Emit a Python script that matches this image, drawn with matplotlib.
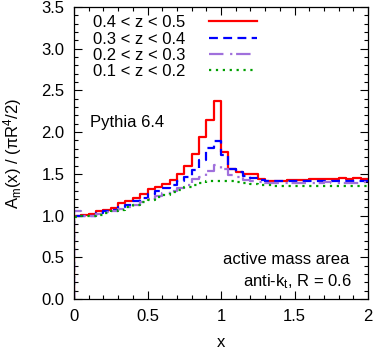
import numpy as np
import matplotlib
matplotlib.use("Agg")
import matplotlib.pyplot as plt
from matplotlib.ticker import MultipleLocator, FixedLocator, FormatStrFormatter

plt.rcParams['font.family'] = ['Liberation Sans', 'DejaVu Sans']
plt.rcParams['mathtext.fontset'] = 'custom'
plt.rcParams['mathtext.rm'] = 'Liberation Sans'
plt.rcParams['mathtext.it'] = 'Liberation Sans'

bin_edges = np.round(np.arange(0, 2.0001, 0.05), 3)

red = [1.00, 1.01, 1.02, 1.05, 1.07, 1.09, 1.15, 1.18, 1.21, 1.26,
       1.32, 1.34, 1.38, 1.43, 1.50, 1.59, 1.74, 1.94, 2.15, 2.37,
       1.76, 1.56, 1.52, 1.50, 1.50, 1.44, 1.42, 1.42, 1.42, 1.43,
       1.43, 1.43, 1.44, 1.44, 1.44, 1.44, 1.45, 1.44, 1.45, 1.44]
blue = [0.99, 0.99, 1.00, 1.03, 1.05, 1.07, 1.10, 1.13, 1.17, 1.21,
        1.26, 1.30, 1.33, 1.37, 1.41, 1.46, 1.55, 1.67, 1.81, 1.89,
        1.73, 1.56, 1.52, 1.48, 1.45, 1.43, 1.42, 1.41, 1.41, 1.41,
        1.41, 1.41, 1.41, 1.42, 1.41, 1.42, 1.41, 1.42, 1.41, 1.42]
purple = [1.05, 0.99, 1.00, 1.02, 1.04, 1.05, 1.08, 1.10, 1.13, 1.16,
          1.20, 1.23, 1.27, 1.30, 1.33, 1.37, 1.44, 1.46, 1.53, 1.61,
          1.56, 1.49, 1.46, 1.43, 1.41, 1.40, 1.39, 1.39, 1.39, 1.39,
          1.39, 1.39, 1.39, 1.39, 1.40, 1.39, 1.39, 1.39, 1.39, 1.40]
green = [0.98, 0.99, 1.00, 1.01, 1.03, 1.05, 1.07, 1.10, 1.13, 1.16,
         1.19, 1.22, 1.25, 1.28, 1.31, 1.34, 1.37, 1.39, 1.41, 1.42,
         1.42, 1.41, 1.40, 1.39, 1.38, 1.37, 1.37, 1.36, 1.36, 1.36,
         1.36, 1.36, 1.35, 1.35, 1.35, 1.35, 1.35, 1.35, 1.35, 1.35]

labels = ["0.4 < z < 0.5", "0.3 < z < 0.4", "0.2 < z < 0.3", "0.1 < z < 0.2"]
series = [red, blue, purple, green]
colors = ["#ff0000", "#0000ff", "#a070dc", "#00a000"]
styles = ["-", (0, (4, 2.4)), (0, (6.5, 3, 1, 1.7)), (0, (1, 2.1))]

FS = 12

fig = plt.figure(figsize=(3.74, 3.49), dpi=100)
ax = fig.add_axes([74/374, 1-299/349, 294/374, 292/349])

for vals, lab, c, ls in zip(series, labels, colors, styles):
    x = np.concatenate([[bin_edges[0]], np.repeat(bin_edges, 2)[1:-1]])
    y = np.concatenate([[0.0], np.repeat(vals, 2)])
    ax.plot(x, y, color=c, linestyle=ls, lw=1.6, label=lab)

ax.set_xlim(0, 2)
ax.set_ylim(0, 3.5)
ax.xaxis.set_major_locator(FixedLocator([0, 0.5, 1, 1.5, 2]))
ax.set_xticklabels(["0", "0.5", "1", "1.5", "2"])
ax.xaxis.set_minor_locator(MultipleLocator(0.1))
ax.yaxis.set_major_locator(MultipleLocator(0.5))
ax.yaxis.set_minor_locator(MultipleLocator(0.1))
ax.yaxis.set_major_formatter(FormatStrFormatter('%.1f'))
ax.tick_params(which='both', direction='in', top=True, right=True, labelsize=FS, width=0.8)
ax.tick_params(which='major', length=6)
ax.tick_params(axis='x', which='major', pad=7)
ax.tick_params(axis='y', which='major', pad=7)
ax.tick_params(which='minor', length=3)
for s in ax.spines.values():
    s.set_linewidth(0.9)

ax.set_xlabel("x", fontsize=FS, labelpad=8)
ax.set_ylabel(r"A$_{\rm m}$(x) / ($\pi$R$^4$/2)", fontsize=FS, labelpad=12)

leg = ax.legend(loc='upper right', bbox_to_anchor=(0.622, 0.972), frameon=False,
                markerfirst=False, fontsize=FS, handlelength=2.9,
                handletextpad=1.4, labelspacing=0.08, borderaxespad=0,
                borderpad=0)

ax.text(0.054, 0.604, "Pythia 6.4", transform=ax.transAxes, fontsize=FS,
        ha='left', va='center')
ax.text(0.935, 0.134, "active mass area", transform=ax.transAxes, fontsize=FS,
        ha='right', va='center')
ax.text(0.946, 0.058, r"anti-k$_{\rm t}$, R = 0.6", transform=ax.transAxes, fontsize=FS,
        ha='right', va='center')

fig.savefig("out.png", dpi=100)
